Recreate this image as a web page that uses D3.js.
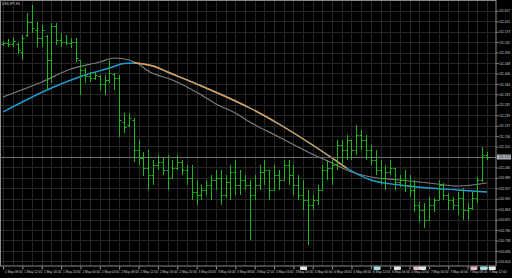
<!DOCTYPE html>
<meta charset="utf-8">
<script src="https://d3js.org/d3.v7.min.js"></script>
<style>
  body { margin: 0; background: #000; }
  text { font-family: "Liberation Sans", Arial, sans-serif; }
</style>
<div id="chart"></div>
<script>

// hourly bars
var opens = [
  111.524,111.528,111.524,111.524,111.492,111.560,111.612,111.580,111.548,111.556,
  111.460,111.596,111.540,111.532,111.528,111.532,111.460,111.420,111.396,111.388,
  111.396,111.364,111.380,111.404,111.388,111.212,111.200,111.220,111.100,111.068,
  111.028,111.000,111.040,111.052,111.020,110.988,111.028,111.052,111.020,110.988,
  110.932,110.920,110.940,110.960,110.980,110.988,110.920,110.972,111.012,110.960,
  110.980,110.960,110.920,110.960,111.012,111.020,110.940,111.000,110.980,111.040,
  111.000,110.960,110.920,110.900,110.880,110.900,110.940,111.020,111.028,111.040,
  111.120,111.100,111.140,111.100,111.160,111.140,111.100,111.060,111.020,110.988,
  111.012,111.028,110.972,110.980,110.960,110.940,110.880,110.860,110.820,110.880,
  110.900,110.960,110.920,110.900,110.880,110.908,110.860,110.868,110.908,110.980,
  111.080
];
var highs = [
  111.536,111.544,111.548,111.528,111.560,111.648,111.680,111.612,111.600,111.560,
  111.608,111.608,111.568,111.560,111.548,111.548,111.460,111.428,111.412,111.412,
  111.400,111.400,111.460,111.408,111.400,111.248,111.248,111.228,111.140,111.092,
  111.100,111.060,111.080,111.068,111.080,111.060,111.080,111.060,111.040,111.040,
  110.980,110.960,110.980,111.000,111.020,111.020,111.000,111.040,111.060,111.020,
  111.000,110.980,111.000,111.040,111.060,111.020,111.040,111.020,111.060,111.060,
  111.040,111.000,110.980,110.940,110.920,110.960,111.040,111.060,111.060,111.140,
  111.140,111.160,111.140,111.200,111.180,111.160,111.120,111.100,111.060,111.040,
  111.060,111.028,111.000,111.020,111.000,110.980,110.892,110.888,110.912,110.908,
  110.980,110.968,110.928,110.912,110.932,110.948,110.888,110.932,110.992,111.112,
  111.092
];
var lows = [
  111.516,111.512,111.512,111.484,111.460,111.552,111.568,111.512,111.512,111.340,
  111.368,111.520,111.512,111.520,111.508,111.452,111.320,111.368,111.372,111.380,
  111.340,111.320,111.368,111.340,111.152,111.168,111.192,111.052,111.040,110.996,
  110.940,110.960,111.020,111.000,110.940,110.988,111.020,111.000,110.960,110.900,
  110.880,110.900,110.920,110.900,110.940,110.880,110.908,110.900,110.920,110.920,
  110.940,110.740,110.900,110.940,110.960,110.900,110.940,110.940,110.980,110.960,
  110.920,110.900,110.860,110.720,110.860,110.880,110.940,110.980,110.960,111.020,
  111.040,111.060,111.060,111.080,111.100,111.060,111.040,111.000,110.960,110.940,
  111.000,110.940,110.952,110.932,110.912,110.852,110.812,110.788,110.820,110.852,
  110.900,110.900,110.860,110.860,110.840,110.820,110.820,110.860,110.888,110.972,
  111.060
];
var closes = [
  111.528,111.524,111.536,111.500,111.548,111.612,111.588,111.548,111.580,111.460,
  111.596,111.540,111.532,111.528,111.532,111.468,111.420,111.396,111.388,111.400,
  111.364,111.380,111.408,111.388,111.220,111.192,111.228,111.100,111.068,111.028,
  111.000,111.040,111.052,111.020,110.988,111.028,111.052,111.020,110.988,110.932,
  110.920,110.940,110.960,110.980,110.988,110.920,110.972,111.012,110.960,110.980,
  110.960,110.920,110.960,111.012,111.020,110.940,111.000,110.980,111.040,111.000,
  110.960,110.920,110.900,110.880,110.900,110.940,111.020,111.028,111.040,111.120,
  111.100,111.140,111.100,111.160,111.140,111.100,111.060,111.020,110.988,111.012,
  111.028,110.972,110.980,110.960,110.940,110.880,110.860,110.820,110.880,110.900,
  110.960,110.920,110.900,110.880,110.908,110.860,110.868,110.908,110.980,111.080,
  111.072
];

// moving averages, sampled along the lines [bar, price]
var fastMa = [
  [0,111.312],[8,111.372],[14,111.424],[20,111.452],[23,111.468],[26,111.460],
  [28,111.444],[30,111.416],[35,111.380],[41,111.320],[44,111.284],[48,111.248],
  [51,111.212],[57,111.152],[63,111.092],[68,111.048],[72,111.012],
  [76,110.992],[82,110.980],[88,110.968],[94,110.956],[100,110.968]
];
var slowMa = [
  [0,111.252],[10,111.348],[17,111.400],[22,111.428],[25,111.446],[27,111.448],
  [29,111.444],[31,111.436],[34,111.412],[41,111.356],[48,111.296],[51,111.268],
  [57,111.204],[63,111.132],[68,111.068],[71,111.028],[76,110.980],[82,110.960],
  [88,110.948],[94,110.940],[100,110.932]
];
var slowOrange = [27, 71];   // bar range where the slow line is drawn orange

var priceLabels = [
  111.657,111.615,111.573,111.532,111.490,111.448,111.406,111.364,111.323,111.281,
  111.239,111.197,111.156,111.114,111.072,111.030,110.989,110.947,110.905,110.863,
  110.821,110.780,110.738,110.696,110.654
];
var timeLabels = [
  "1 May 08:00","1 May 12:00","1 May 16:00","1 May 20:00","2 May 00:00","2 May 04:00",
  "2 May 08:00","2 May 12:00","2 May 16:00","2 May 20:00","3 May 00:00","3 May 04:00",
  "3 May 08:00","3 May 12:00","3 May 16:00","3 May 20:00","6 May 00:00","6 May 04:00",
  "6 May 08:00","6 May 12:00","6 May 16:00","6 May 20:00","7 May 00:00","7 May 04:00",
  "7 May 08:00","7 May 12:00"
];
var eventBars   = [62.2, 77.4, 81.6, 85.6, 86.8, 97.4, 99.4, 101.2];
var eventColors = ["#e6e6e6","#a8e0e0","#e6e6e6","#e8b8c4","#e6e6e6","#e8b8c4","#a8e0e0","#e6e6e6"];
var symbol = "USDJPY,H1";

var W = 512, H = 278, plotW = 496, plotH = 266;

var svg = d3.select("#chart").append("svg")
    .attr("width", W).attr("height", H);
svg.append("rect").attr("width", W).attr("height", H).attr("fill", "#000");

var x = d3.scaleLinear().domain([0, 100]).range([3, 487]);
var y = d3.scaleLinear().domain([110.636, 111.700]).range([plotH, 0]);
var snap = v => Math.round(v) + 0.5;

// grid
var grid = svg.append("g").attr("stroke", "#262626").attr("stroke-width", 1);
grid.selectAll(".h").data(priceLabels).join("line")
    .attr("x1", 0).attr("x2", plotW)
    .attr("y1", d => snap(y(d))).attr("y2", d => snap(y(d)));
grid.selectAll(".v").data(d3.range(0, 101, 2)).join("line")
    .attr("y1", 0).attr("y2", plotH)
    .attr("x1", d => snap(x(d))).attr("x2", d => snap(x(d)));

// moving averages
var line = d3.line().x(d => x(d[0])).y(d => y(d[1])).curve(d3.curveMonotoneX);
svg.append("path").attr("d", line(fastMa))
    .attr("fill", "none").attr("stroke", "#7d7d7d").attr("stroke-width", 1.2);
svg.append("clipPath").attr("id", "orangeClip").append("rect")
    .attr("x", x(slowOrange[0])).attr("width", x(slowOrange[1]) - x(slowOrange[0]))
    .attr("y", 0).attr("height", plotH);
svg.append("path").attr("d", line(slowMa))
    .attr("fill", "none").attr("stroke", "#1e9fd4").attr("stroke-width", 1.4);
svg.append("path").attr("d", line(slowMa)).attr("clip-path", "url(#orangeClip)")
    .attr("fill", "none").attr("stroke", "#e39a52").attr("stroke-width", 1.4);

// bid line
var last = closes[closes.length - 1];
svg.append("line").attr("x1", 0).attr("x2", plotW)
    .attr("y1", snap(y(last))).attr("y2", snap(y(last)))
    .attr("stroke", "#6e6e6e");

// OHLC bars
var bars = svg.append("g").attr("stroke", "#1fb51f").attr("stroke-width", 1);
opens.forEach(function(o, i) {
  var cx = snap(x(i));
  bars.append("line").attr("x1", cx).attr("x2", cx)
      .attr("y1", y(highs[i])).attr("y2", y(lows[i]));
  bars.append("line").attr("x1", cx - 2).attr("x2", cx)
      .attr("y1", snap(y(o))).attr("y2", snap(y(o)));
  bars.append("line").attr("x1", cx).attr("x2", cx + 2)
      .attr("y1", snap(y(closes[i]))).attr("y2", snap(y(closes[i])));
});

// frame
svg.append("rect").attr("x", 0.5).attr("y", 0.5)
    .attr("width", plotW - 0.5).attr("height", plotH - 0.5)
    .attr("fill", "none").attr("stroke", "#8a8a8a");

// price axis
var yAxis = svg.append("g").attr("transform", "translate(" + (plotW + 0.5) + ",0)")
    .call(d3.axisRight(y).tickValues(priceLabels).tickFormat(d3.format(".3f")).tickSize(2));
yAxis.select(".domain").remove();
yAxis.selectAll("line").attr("stroke", "#9a9a9a");
yAxis.selectAll("text").attr("fill", "#cfcfcf").attr("font-size", 3.2).attr("x", 2.5);

// current price tag
svg.append("rect").attr("x", plotW + 1).attr("y", y(last) - 2.5)
    .attr("width", 14).attr("height", 5).attr("fill", "#a9b0b8");
svg.append("text").attr("x", plotW + 3).attr("y", y(last) + 1.2)
    .attr("font-size", 3.2).attr("fill", "#222").text(d3.format(".3f")(last));

// time axis
var xAxis = svg.append("g").attr("transform", "translate(0," + (plotH + 0.5) + ")")
    .call(d3.axisBottom(x).tickValues(d3.range(0, 101, 4))
      .tickFormat((d, i) => timeLabels[i]).tickSize(3));
xAxis.select(".domain").remove();
xAxis.selectAll("line").attr("stroke", "#9a9a9a");
xAxis.selectAll("text").attr("fill", "#cfcfcf").attr("font-size", 3.2)
    .attr("text-anchor", "start").attr("dx", 1.5).attr("y", 4);

// event markers on the time axis
svg.append("g").selectAll("rect").data(eventBars).join("rect")
    .attr("x", d => x(d) - 4).attr("y", plotH + 0.5)
    .attr("width", 7).attr("height", 3.5).attr("rx", 0.8)
    .attr("fill", (d, i) => eventColors[i]);

// symbol caption
svg.append("text").attr("x", 2).attr("y", 4.5)
    .attr("font-size", 3.4).attr("fill", "#cfcfcf").text(symbol);

</script>
